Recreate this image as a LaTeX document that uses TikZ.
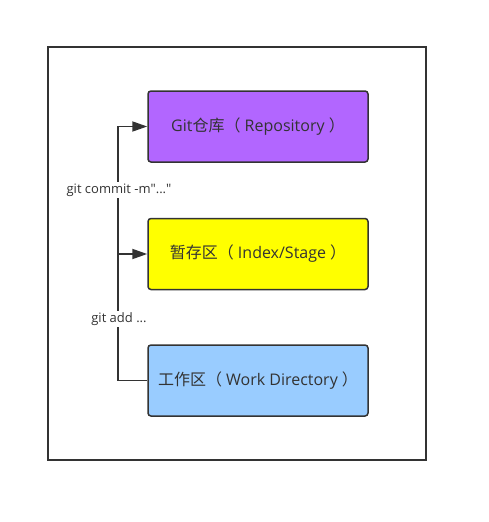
\documentclass[tikz,border=0pt]{standalone}
\usepackage{fontspec}
\setmainfont{Open Sans}[Ligatures=TeXOff]
\newfontfamily\cjk{Noto Sans CJK SC}
\usetikzlibrary{arrows.meta}

\definecolor{repocol}{RGB}{178,102,255}
\definecolor{stagecol}{RGB}{255,255,0}
\definecolor{workcol}{RGB}{153,204,255}
\definecolor{inkgray}{RGB}{51,51,51}

\begin{document}
\begin{tikzpicture}[x=1pt,y=-1pt,
    area/.style={draw=inkgray, line width=1.5pt, rounded corners=3pt,
        minimum width=220pt, minimum height=71pt, text=inkgray,
        font=\fontsize{16}{18}\selectfont},
    flow/.style={draw=inkgray, line width=1.8pt},
    cmd/.style={fill=white, text=inkgray, inner sep=1.5pt,
        font=\fontsize{13}{15}\selectfont},
    tip/.style={-{Triangle[length=15pt,width=10pt]}}]
    % Page size
    \useasboundingbox (0,0) rectangle (488,522);

    % Outer frame
    \draw[inkgray, line width=1.6pt] (48,47) rectangle (426,460);

    % Areas
    \node[area, fill=repocol] (repo) at (258,126.5) {Git{\cjk 仓库（} Repository {\cjk ）}};
    \node[area, fill=stagecol] (stage) at (258,254) {{\cjk 暂存区（} Index/Stage {\cjk ）}};
    \node[area, fill=workcol] (work) at (258,380.5) {{\cjk 工作区（} Work Directory {\cjk ）}};

    % Connectors
    \coordinate (trunk) at (118,0);
    \draw[flow, tip] (work.west) -| (trunk |- repo.west) -- (repo.west);
    \draw[flow, tip] (trunk |- stage.west) -- (stage.west);

    % Commands
    \node[cmd] (commit) at (119,190) {git commit -m"..."};
    \node[cmd] (add) at (119,319) {git add ...};
\end{tikzpicture}
\end{document}
